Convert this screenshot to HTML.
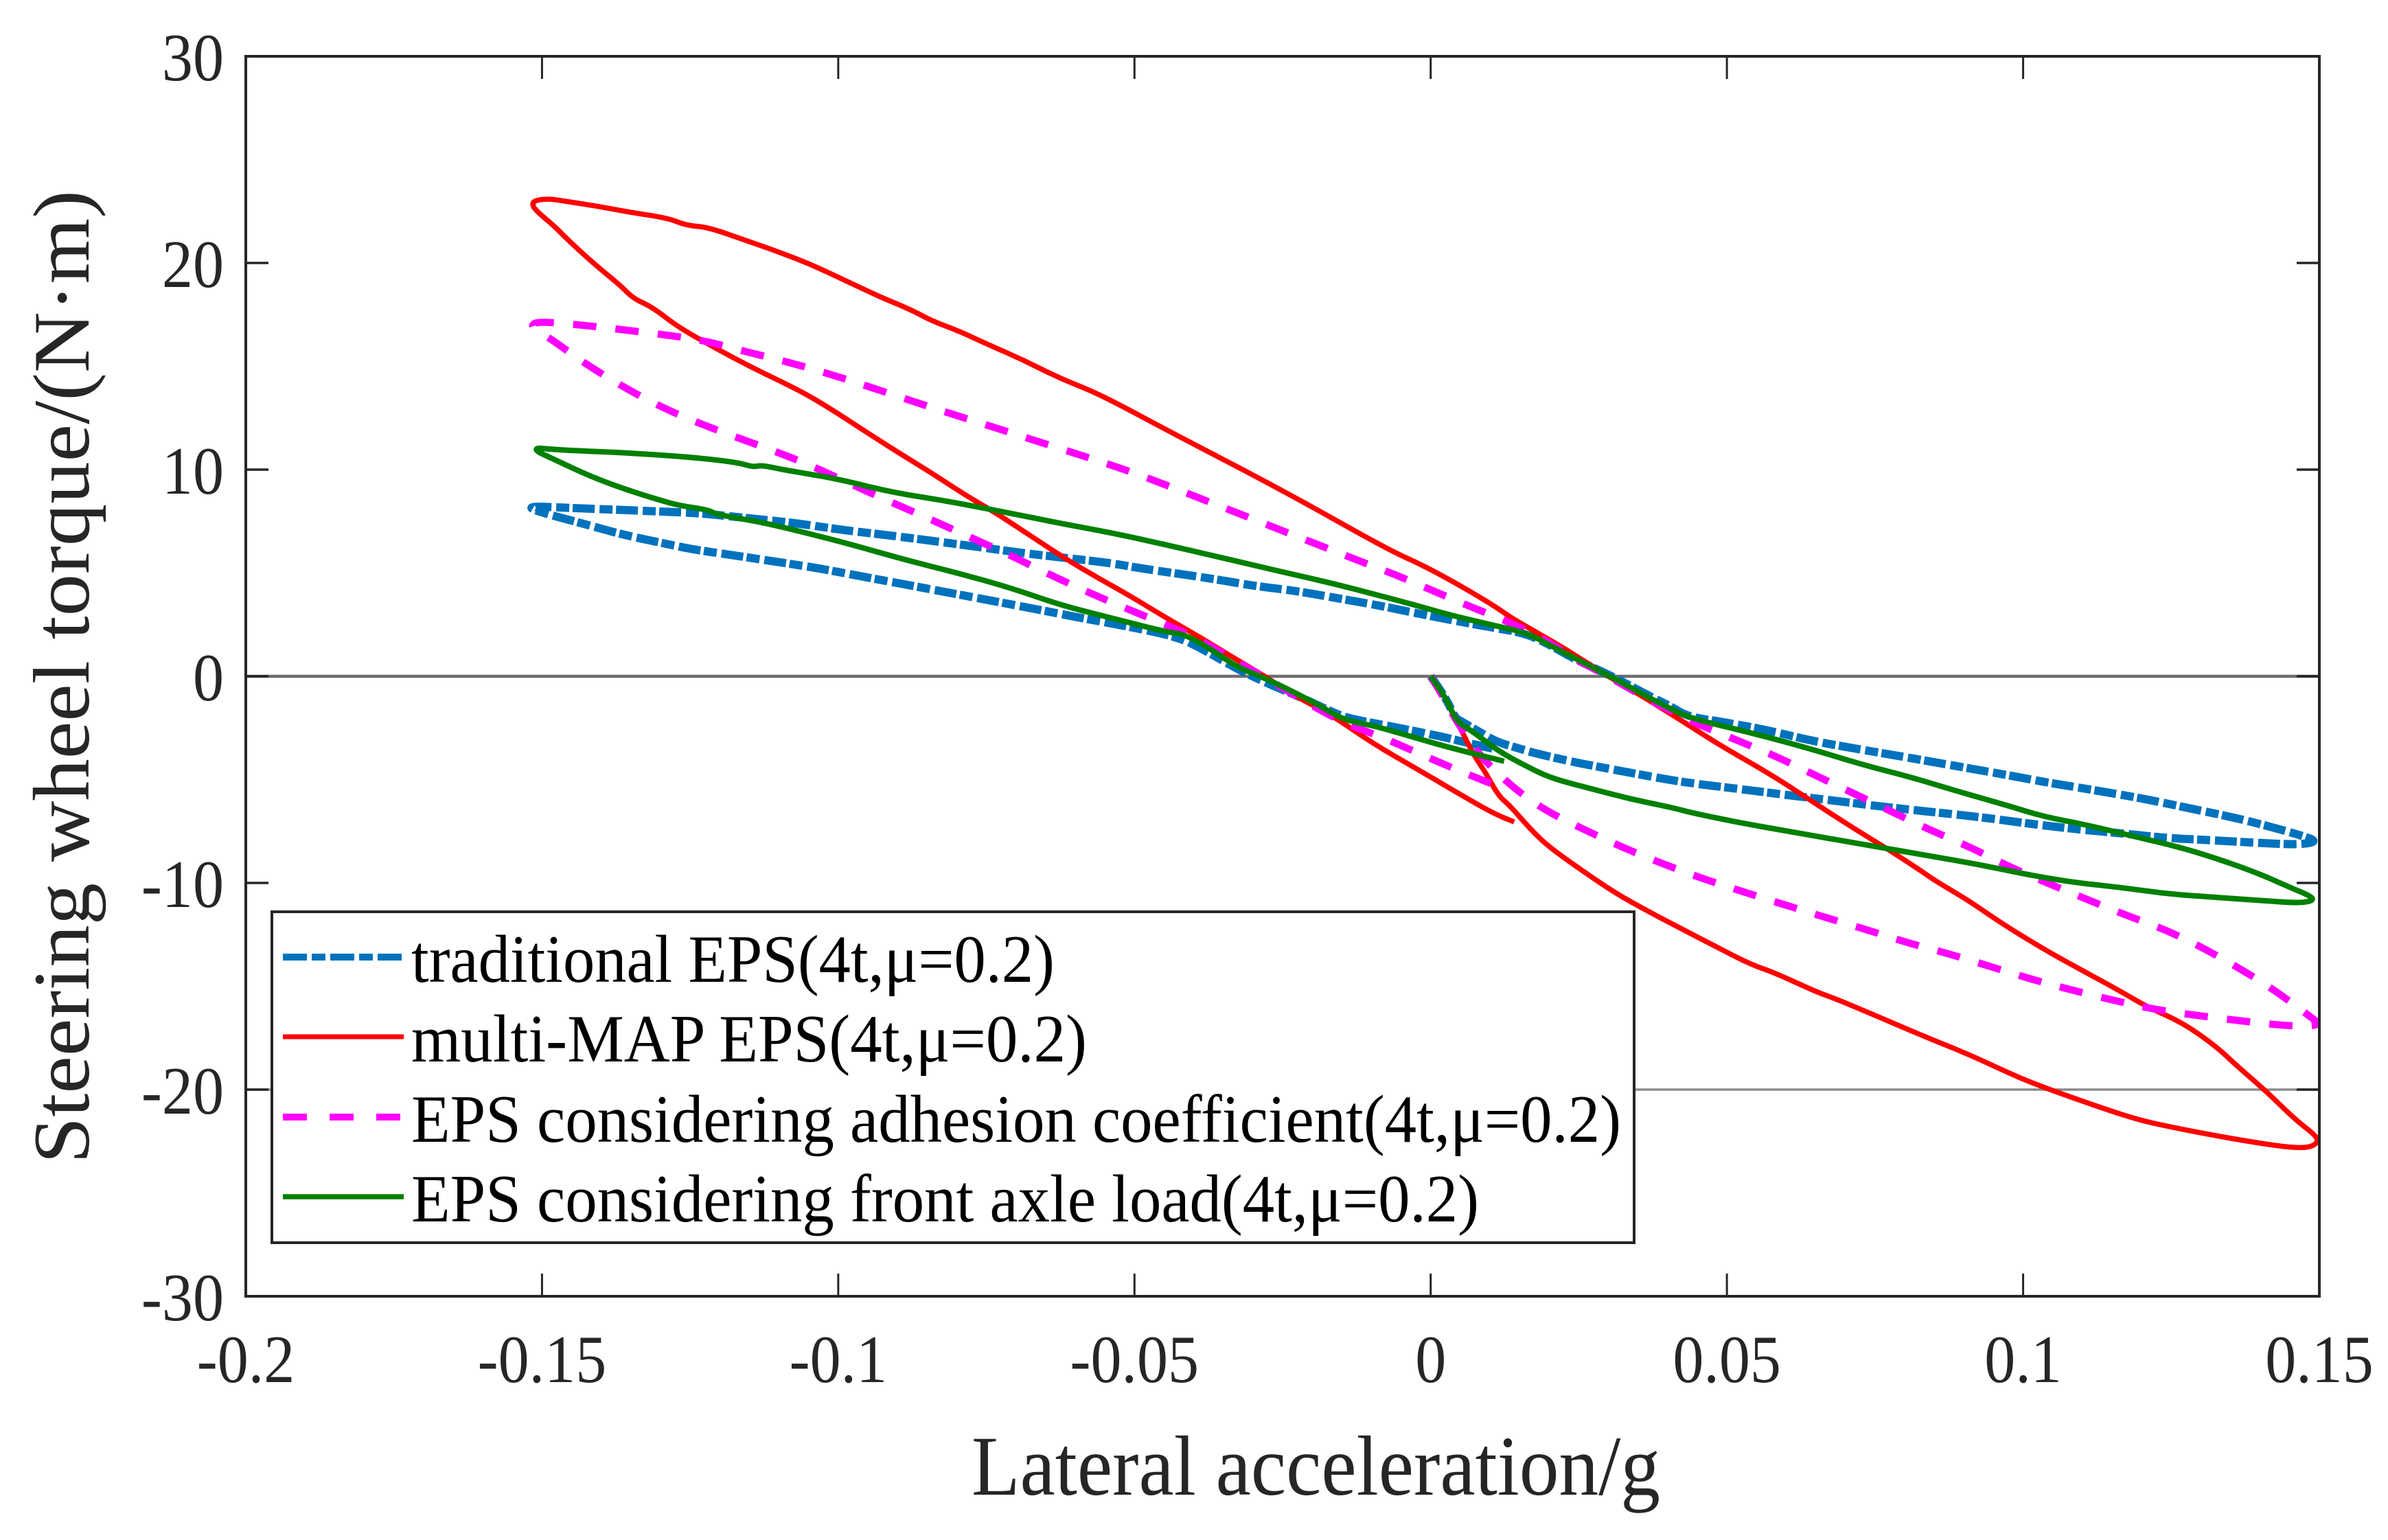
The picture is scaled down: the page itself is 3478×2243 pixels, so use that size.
<!DOCTYPE html>
<html lang="en">
<head>
<meta charset="utf-8">
<title>Steering wheel torque vs lateral acceleration</title>
<style>
html,body{margin:0;padding:0;background:#fff;}
body{width:3478px;height:2243px;overflow:hidden;}
svg{display:block;}
text{font-family:"Liberation Serif","DejaVu Serif",serif;}
</style>
</head>
<body>
<svg id="chart" xmlns="http://www.w3.org/2000/svg" width="3478" height="2243" viewBox="0 0 3478 2243">
  <rect x="0" y="0" width="3478" height="2243" fill="#ffffff"/>
  <g id="refs"></g>
  <g id="series"></g>
  <g id="ticks"></g>
  <rect x="358" y="82" width="3020" height="1806" fill="none" stroke="#262626" stroke-width="4"/>
  <g id="tick-labels" fill="#262626" font-size="99"></g>
  <text x="1415" y="2177" font-size="124" fill="#262626" textLength="1003" lengthAdjust="spacingAndGlyphs">Lateral acceleration/g</text>
  <text transform="translate(129,1695) rotate(-90)" font-size="117" fill="#262626" textLength="1418" lengthAdjust="spacingAndGlyphs">Steering wheel torque/(N·m)</text>
  <g>
    <rect x="396" y="1328" width="1984" height="482" fill="#ffffff" stroke="#262626" stroke-width="4"/>
    <line x1="412" y1="1394" x2="588" y2="1394" stroke="#0072bd" stroke-width="10" stroke-dasharray="35 7 20 7"/>
    <text x="599" y="1430" font-size="99" fill="#000" textLength="937" lengthAdjust="spacingAndGlyphs">traditional EPS(4t,μ=0.2)</text>
    <line x1="412" y1="1510" x2="588" y2="1510" stroke="#ff0000" stroke-width="7"/>
    <text x="599" y="1546" font-size="99" fill="#000" textLength="984" lengthAdjust="spacingAndGlyphs">multi-MAP EPS(4t,μ=0.2)</text>
    <line x1="412" y1="1627" x2="588" y2="1627" stroke="#ff00ff" stroke-width="10" stroke-dasharray="35 33"/>
    <text x="599" y="1663" font-size="99" fill="#000" textLength="1762" lengthAdjust="spacingAndGlyphs">EPS considering adhesion coefficient(4t,μ=0.2)</text>
    <line x1="412" y1="1743" x2="588" y2="1743" stroke="#008000" stroke-width="7.5"/>
    <text x="599" y="1779" font-size="99" fill="#000" textLength="1555" lengthAdjust="spacingAndGlyphs">EPS considering front axle load(4t,μ=0.2)</text>
  </g>
</svg>
<script>
const xTicks = [-0.2, -0.15, -0.1, -0.05, 0, 0.05, 0.1, 0.15];
const xTickLabels = ['-0.2', '-0.15', '-0.1', '-0.05', '0', '0.05', '0.1', '0.15'];
const yTicks = [30, 20, 10, 0, -10, -20, -30];
const yTickLabels = ['30', '20', '10', '0', '-10', '-20', '-30'];
const referenceLevels = [0, -20];

const traditionalEps = [[0,0],[0.0024,-0.96],[0.0041,-2.0],[0.0048,-2.12],[0.0078,-2.62],[0.0111,-3.17],[0.0144,-3.45],[0.0177,-3.73],[0.0244,-4.17],[0.0317,-4.56],[0.039,-4.95],[0.0446,-5.2],[0.0526,-5.47],[0.0605,-5.76],[0.0685,-6.03],[0.0765,-6.32],[0.0844,-6.56],[0.0924,-6.8],[0.1004,-7.11],[0.1083,-7.38],[0.1163,-7.59],[0.1243,-7.83],[0.1323,-7.94],[0.1402,-8.07],[0.1466,-8.15],[0.1498,-7.99],[0.1466,-7.67],[0.1426,-7.35],[0.1362,-6.87],[0.1283,-6.4],[0.1203,-5.92],[0.1123,-5.52],[0.1044,-5.16],[0.0964,-4.73],[0.0884,-4.33],[0.0805,-3.93],[0.0725,-3.54],[0.0645,-3.14],[0.0565,-2.58],[0.0486,-2.18],[0.0434,-1.95],[0.0406,-1.47],[0.0366,-0.91],[0.0304,0.04],[0.0244,0.81],[0.0197,1.59],[0.0158,2.09],[0.0104,2.36],[0.0038,2.7],[-0.0029,3.08],[-0.0095,3.47],[-0.0162,3.8],[-0.0229,4.14],[-0.0295,4.36],[-0.0362,4.69],[-0.0428,4.97],[-0.0495,5.25],[-0.054,5.48],[-0.0614,5.72],[-0.0688,5.96],[-0.0769,6.28],[-0.0843,6.56],[-0.0917,6.83],[-0.0991,7.07],[-0.1065,7.39],[-0.1146,7.63],[-0.1235,7.9],[-0.1309,7.98],[-0.1383,8.07],[-0.1457,8.15],[-0.1509,8.22],[-0.1522,8.15],[-0.1498,7.9],[-0.1431,7.39],[-0.1361,6.83],[-0.1294,6.43],[-0.125,6.16],[-0.1183,5.88],[-0.1109,5.56],[-0.1035,5.24],[-0.0962,4.84],[-0.0888,4.45],[-0.0814,4.05],[-0.074,3.65],[-0.0666,3.25],[-0.0592,2.83],[-0.0518,2.45],[-0.0428,1.92],[-0.0381,1.26],[-0.0328,0.37],[-0.0275,-0.35],[-0.0215,-1.07],[-0.0162,-1.79],[-0.0135,-2.06],[-0.0062,-2.45],[0.0024,-2.95],[0.0071,-3.28],[0.0104,-3.5]];

const multiMapEps = [[0,0],[0.0024,-0.96],[0.0041,-2.07],[0.0054,-2.73],[0.0071,-3.73],[0.0094,-4.72],[0.0114,-5.77],[0.0134,-6.27],[0.0161,-7.16],[0.0187,-7.93],[0.0211,-8.49],[0.0257,-9.43],[0.0311,-10.48],[0.0366,-11.36],[0.0422,-12.2],[0.0486,-13.15],[0.0541,-13.95],[0.0581,-14.35],[0.0653,-15.3],[0.0685,-15.62],[0.0757,-16.49],[0.0828,-17.37],[0.0908,-18.29],[0.0988,-19.36],[0.1044,-19.99],[0.1131,-20.87],[0.1195,-21.47],[0.1251,-21.82],[0.1323,-22.22],[0.1386,-22.53],[0.1434,-22.74],[0.1466,-22.82],[0.1486,-22.77],[0.1498,-22.53],[0.1494,-22.22],[0.1458,-21.42],[0.141,-20.07],[0.1362,-18.88],[0.1323,-17.84],[0.1267,-16.73],[0.1211,-16.02],[0.1163,-15.22],[0.1107,-14.35],[0.1036,-13.23],[0.0964,-11.96],[0.0908,-10.85],[0.0852,-9.9],[0.0828,-9.42],[0.0773,-8.39],[0.0709,-7.27],[0.0637,-5.92],[0.0573,-4.73],[0.0486,-3.3],[0.043,-2.26],[0.0357,-0.96],[0.0294,0.09],[0.0231,1.26],[0.0181,2.09],[0.0137,2.81],[0.0104,3.47],[0.0038,4.58],[-0.0016,5.41],[-0.0072,6.13],[-0.025,9.0],[-0.0446,11.92],[-0.0518,13.03],[-0.057,13.78],[-0.0629,14.46],[-0.0688,15.31],[-0.0747,16.05],[-0.0799,16.74],[-0.0843,17.21],[-0.0876,17.72],[-0.0932,18.39],[-0.0991,19.19],[-0.105,19.98],[-0.1109,20.62],[-0.1161,21.14],[-0.122,21.73],[-0.1257,21.82],[-0.1287,22.17],[-0.1353,22.46],[-0.1409,22.76],[-0.1464,23.0],[-0.1486,23.1],[-0.1509,23.05],[-0.1517,22.89],[-0.1512,22.57],[-0.1479,21.78],[-0.1457,21.14],[-0.1412,19.95],[-0.1368,18.92],[-0.1346,18.28],[-0.1313,17.85],[-0.1272,16.93],[-0.1213,15.97],[-0.1146,14.94],[-0.1065,13.83],[-0.1013,12.95],[-0.0954,11.84],[-0.0902,10.89],[-0.0843,9.85],[-0.0784,8.74],[-0.0732,7.87],[-0.0673,6.75],[-0.0614,5.64],[-0.0561,4.75],[-0.0508,3.9],[-0.0448,2.85],[-0.0388,1.87],[-0.0335,0.93],[-0.0282,0.04],[-0.0229,-0.96],[-0.0169,-1.84],[-0.0096,-3.28],[-0.0029,-4.39],[0.0037,-5.5],[0.0104,-6.61],[0.0141,-7.05]];

const adhesionEps = [[0,0],[0.0021,-0.96],[0.0041,-2.07],[0.0078,-3.62],[0.0098,-4.28],[0.0144,-5.5],[0.0197,-6.55],[0.0264,-7.49],[0.0327,-8.32],[0.0394,-9.1],[0.0462,-9.82],[0.053,-10.45],[0.0601,-11.09],[0.0669,-11.69],[0.0741,-12.31],[0.0808,-12.92],[0.088,-13.47],[0.0952,-14.11],[0.102,-14.71],[0.1087,-15.22],[0.1163,-15.75],[0.1231,-16.17],[0.1303,-16.45],[0.137,-16.68],[0.1434,-16.89],[0.1486,-16.94],[0.15,-16.81],[0.1482,-16.41],[0.1418,-15.06],[0.1359,-14.03],[0.1299,-13.07],[0.1235,-12.2],[0.1167,-11.49],[0.1099,-10.69],[0.1032,-9.9],[0.0968,-9.1],[0.0908,-8.23],[0.0836,-7.35],[0.0773,-6.48],[0.0709,-5.6],[0.0645,-4.73],[0.0581,-3.85],[0.0514,-3.06],[0.0446,-2.26],[0.0398,-1.55],[0.0371,-1.18],[0.0297,0.04],[0.0237,0.93],[0.0191,1.81],[0.0131,2.64],[0.0066,3.38],[0,4.19],[-0.0066,4.99],[-0.0135,5.74],[-0.047,9.53],[-0.0539,10.22],[-0.0607,10.85],[-0.0677,11.49],[-0.0746,12.13],[-0.0816,12.76],[-0.0884,13.4],[-0.0954,14.07],[-0.1023,14.7],[-0.1092,15.26],[-0.1165,15.77],[-0.1231,16.28],[-0.1303,16.56],[-0.1372,16.8],[-0.1438,17.01],[-0.1505,17.17],[-0.1518,17.0],[-0.1512,16.77],[-0.1483,16.29],[-0.1438,15.34],[-0.1379,14.27],[-0.1316,13.27],[-0.1252,12.44],[-0.1186,11.71],[-0.1117,11.0],[-0.105,10.25],[-0.0984,9.38],[-0.0921,8.55],[-0.0853,7.71],[-0.0788,6.86],[-0.0721,6.01],[-0.0658,5.13],[-0.0592,4.24],[-0.0529,3.46],[-0.0461,2.66],[-0.0395,1.87],[-0.0328,0.7],[-0.0275,-0.13],[-0.0215,-1.18],[-0.0149,-2.23],[-0.0082,-2.95],[-0.0016,-3.78],[0.0051,-4.61],[0.0124,-5.44]];

const frontAxleEps = [[0,0],[0.0024,-0.96],[0.0038,-1.84],[0.0048,-2.28],[0.0071,-2.67],[0.0114,-3.62],[0.0164,-4.39],[0.0204,-4.94],[0.0271,-5.44],[0.0337,-5.94],[0.0404,-6.33],[0.0446,-6.64],[0.0526,-7.11],[0.0605,-7.51],[0.0685,-7.91],[0.0765,-8.31],[0.0844,-8.7],[0.0924,-9.1],[0.1004,-9.58],[0.1083,-9.97],[0.1163,-10.21],[0.1243,-10.53],[0.1323,-10.69],[0.1402,-10.85],[0.1466,-10.98],[0.149,-10.85],[0.1486,-10.64],[0.145,-10.21],[0.1394,-9.5],[0.1323,-8.78],[0.1259,-8.23],[0.1187,-7.75],[0.1107,-7.19],[0.1036,-6.8],[0.0972,-6.24],[0.0884,-5.52],[0.0812,-4.89],[0.0725,-4.25],[0.0645,-3.54],[0.0542,-2.74],[0.0438,-2.03],[0.0398,-1.47],[0.0371,-1.07],[0.0297,0.09],[0.0217,1.26],[0.0164,2.09],[0.0104,2.48],[0.0038,2.92],[-0.0029,3.47],[-0.0095,3.97],[-0.0162,4.47],[-0.0229,4.91],[-0.0295,5.35],[-0.0362,5.8],[-0.0446,6.36],[-0.0533,6.91],[-0.0629,7.42],[-0.0732,8.02],[-0.0821,8.5],[-0.091,8.9],[-0.0998,9.53],[-0.1072,9.9],[-0.1095,10.01],[-0.1131,10.22],[-0.1143,10.12],[-0.1168,10.33],[-0.122,10.52],[-0.1294,10.7],[-0.1383,10.85],[-0.1457,10.93],[-0.1494,11.01],[-0.1509,11.05],[-0.151,10.89],[-0.1479,10.49],[-0.142,9.69],[-0.1361,9.06],[-0.1302,8.53],[-0.1268,8.26],[-0.122,8.06],[-0.1205,7.82],[-0.1131,7.47],[-0.105,6.91],[-0.0976,6.36],[-0.0888,5.64],[-0.0799,5.0],[-0.071,4.29],[-0.0621,3.41],[-0.0533,2.78],[-0.0446,2.14],[-0.0415,2.03],[-0.0368,1.26],[-0.0329,0.48],[-0.0282,-0.07],[-0.0229,-0.79],[-0.0182,-1.51],[-0.0146,-2.12],[-0.0095,-2.4],[-0.0029,-2.95],[0.0038,-3.5],[0.0124,-4.11]];

const SVG_NS = 'http://www.w3.org/2000/svg';
const plot = { left: 358, right: 3378, top: 82, bottom: 1888, xMin: -0.2, xMax: 0.15, yMin: -30, yMax: 30 };
function xScale(v) { return plot.left + (v - plot.xMin) / (plot.xMax - plot.xMin) * (plot.right - plot.left); }
function yScale(v) { return plot.bottom - (v - plot.yMin) / (plot.yMax - plot.yMin) * (plot.bottom - plot.top); }
function make(tag, attrs) {
  const el = document.createElementNS(SVG_NS, tag);
  for (const k in attrs) el.setAttribute(k, attrs[k]);
  return el;
}

const refsGroup = document.getElementById('refs');
referenceLevels.forEach(function (level) {
  const ref = make('line', { x1: plot.left, x2: plot.right, y1: yScale(level), y2: yScale(level), stroke: level === 0 ? '#6e6e6e' : '#8a8a8a', 'stroke-width': level === 0 ? 4.5 : 3.5 });
  
  
  refsGroup.appendChild(ref);
});

const seriesGroup = document.getElementById('series');
function smoothPath(points) {
  const px = points.map(function (p) { return [xScale(p[0]), yScale(p[1])]; });
  let d = 'M' + px[0][0].toFixed(1) + ' ' + px[0][1].toFixed(1);
  for (let i = 1; i < px.length - 1; i++) {
    const mx = (px[i][0] + px[i + 1][0]) / 2;
    const my = (px[i][1] + px[i + 1][1]) / 2;
    d += ' Q' + px[i][0].toFixed(1) + ' ' + px[i][1].toFixed(1) + ' ' + mx.toFixed(1) + ' ' + my.toFixed(1);
  }
  const last = px[px.length - 1];
  d += ' L' + last[0].toFixed(1) + ' ' + last[1].toFixed(1);
  return d;
}
function drawSeries(points, name, color, width, dash) {
  const path = make('path', { d: smoothPath(points), fill: 'none', stroke: color, 'stroke-width': width, 'stroke-linejoin': 'round' });
  if (dash) path.setAttribute('stroke-dasharray', dash);
  
  
  seriesGroup.appendChild(path);
}
drawSeries(traditionalEps, 'series-traditional-eps', '#0072bd', 12, '32 5 19 7');
drawSeries(multiMapEps, 'series-multi-map-eps', '#ff0000', 7.5, '');
drawSeries(adhesionEps, 'series-adhesion-eps', '#ff00ff', 10.5, '34 28');
drawSeries(frontAxleEps, 'series-front-axle-eps', '#008000', 8, '');

const ticksGroup = document.getElementById('ticks');
const labelsGroup = document.getElementById('tick-labels');
const tickLen = 33;
const labelSqueeze = 0.91;
xTicks.forEach(function (v, i) {
  const x = xScale(v);
  const bottomTick = make('line', { x1: x, x2: x, y1: plot.bottom, y2: plot.bottom - tickLen, stroke: '#262626', 'stroke-width': 3 });
  
  
  ticksGroup.appendChild(bottomTick);
  const topTick = make('line', { x1: x, x2: x, y1: plot.top, y2: plot.top + tickLen, stroke: '#262626', 'stroke-width': 3 });
  
  
  ticksGroup.appendChild(topTick);
  const label = make('text', { transform: 'translate(' + x + ',2013) scale(' + labelSqueeze + ',1)', 'text-anchor': 'middle' });
  label.textContent = xTickLabels[i];
  
  
  labelsGroup.appendChild(label);
});
yTicks.forEach(function (v, i) {
  const y = yScale(v);
  const leftTick = make('line', { x1: plot.left, x2: plot.left + tickLen, y1: y, y2: y, stroke: '#262626', 'stroke-width': 3.5 });
  
  
  ticksGroup.appendChild(leftTick);
  const rightTick = make('line', { x1: plot.right, x2: plot.right - tickLen, y1: y, y2: y, stroke: '#262626', 'stroke-width': 3.5 });
  
  
  ticksGroup.appendChild(rightTick);
  const label = make('text', { transform: 'translate(326,' + (y + 35) + ') scale(' + labelSqueeze + ',1)', 'text-anchor': 'end' });
  label.textContent = yTickLabels[i];
  
  
  labelsGroup.appendChild(label);
});
</script>
</body>
</html>
